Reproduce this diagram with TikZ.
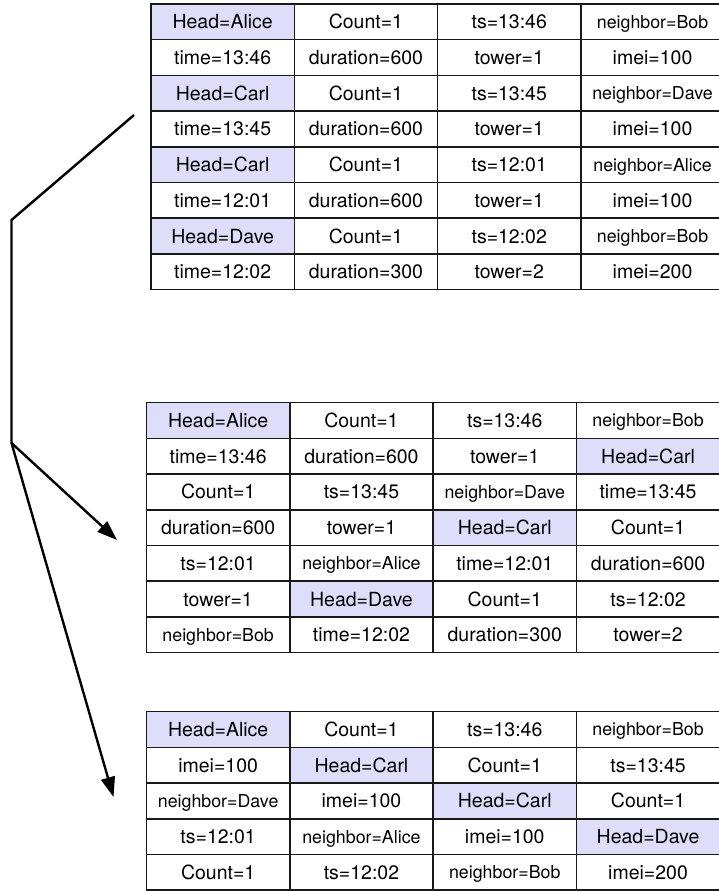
\documentclass[tikz,border=0pt]{standalone}
\usepackage{fontspec}
\setmainfont{TeX Gyre Heros}
\usetikzlibrary{arrows.meta}
\definecolor{headfill}{RGB}{222,222,250}
\definecolor{gridline}{RGB}{25,25,25}
\def\cw{143.3}
\def\rh{35.7}
\tikzset{
  cell/.style={draw=gridline, line width=1.5pt, minimum width=\cw pt, minimum height=\rh pt,
    inner sep=0pt, font=\fontsize{19.5}{22}\selectfont, text height=14pt, text depth=0pt},
  tcN/.style={},
  tcH/.style={fill=headfill},
  tcS/.style={font=\fontsize{17.8}{20}\selectfont, text height=12.8pt},
  conn/.style={line width=2.4pt, line join=miter},
  tip/.style={-{Triangle[length=20pt,width=14pt]}}
}
\newcommand\mytable[4]{%
  \foreach \row [count=\r] in {#4} {
    \foreach \s/\t [count=\c] in \row {
      \node[cell,\s] (#1-\r-\c) at ({#2+(\c-0.5)*\cw},{#3+(\r-0.5)*\rh}) {\t};
    }
  }%
}
\begin{document}
\begin{tikzpicture}[x=1pt,y=-1pt]
\useasboundingbox (0,0) rectangle (718,891);
\mytable{A}{151}{4}{
 {tcH/Head=Alice,tcN/Count=1,tcN/ts=13:46,tcS/neighbor=Bob},
 {tcN/time=13:46,tcN/duration=600,tcN/tower=1,tcN/imei=100},
 {tcH/Head=Carl,tcN/Count=1,tcN/ts=13:45,tcS/neighbor=Dave},
 {tcN/time=13:45,tcN/duration=600,tcN/tower=1,tcN/imei=100},
 {tcH/Head=Carl,tcN/Count=1,tcN/ts=12:01,tcS/neighbor=Alice},
 {tcN/time=12:01,tcN/duration=600,tcN/tower=1,tcN/imei=100},
 {tcH/Head=Dave,tcN/Count=1,tcN/ts=12:02,tcS/neighbor=Bob},
 {tcN/time=12:02,tcN/duration=300,tcN/tower=2,tcN/imei=200}}
\mytable{B}{146.5}{402.7}{
 {tcH/Head=Alice,tcN/Count=1,tcN/ts=13:46,tcS/neighbor=Bob},
 {tcN/time=13:46,tcN/duration=600,tcN/tower=1,tcH/Head=Carl},
 {tcN/Count=1,tcN/ts=13:45,tcS/neighbor=Dave,tcN/time=13:45},
 {tcN/duration=600,tcN/tower=1,tcH/Head=Carl,tcN/Count=1},
 {tcN/ts=12:01,tcS/neighbor=Alice,tcN/time=12:01,tcN/duration=600},
 {tcN/tower=1,tcH/Head=Dave,tcN/Count=1,tcN/ts=12:02},
 {tcS/neighbor=Bob,tcN/time=12:02,tcN/duration=300,tcN/tower=2}}
\mytable{C}{146.5}{711.7}{
 {tcH/Head=Alice,tcN/Count=1,tcN/ts=13:46,tcS/neighbor=Bob},
 {tcN/imei=100,tcH/Head=Carl,tcN/Count=1,tcN/ts=13:45},
 {tcS/neighbor=Dave,tcN/imei=100,tcH/Head=Carl,tcN/Count=1},
 {tcN/ts=12:01,tcS/neighbor=Alice,tcN/imei=100,tcH/Head=Dave},
 {tcN/Count=1,tcN/ts=12:02,tcS/neighbor=Bob,tcN/imei=200}}
\coordinate (start) at (134,115);
\coordinate (bend) at (11.5,220);
\coordinate (fork) at (11.5,443);
\coordinate (tipA) at (117,540);
\coordinate (tipB) at (113.5,797);
\draw[conn] (start) -- (bend) -- (fork);
\draw[conn,tip] (fork) -- (tipA);
\draw[conn,tip] (fork) -- (tipB);
\end{tikzpicture}
\end{document}
